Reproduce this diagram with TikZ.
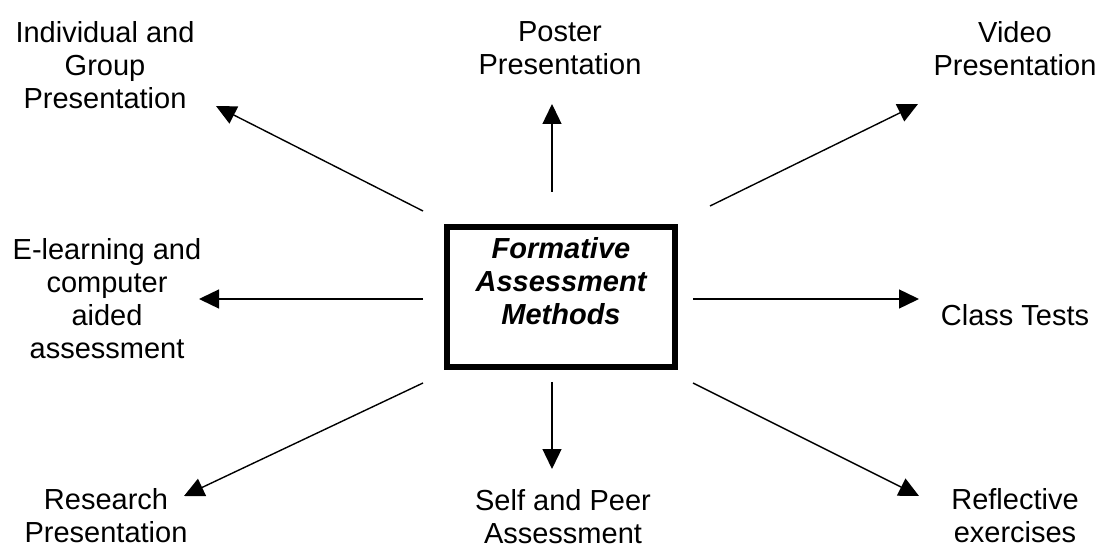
\documentclass[tikz,border=0pt]{standalone}
\usepackage{fontspec}
\setmainfont{Liberation Sans}
\usetikzlibrary{arrows.meta}
\begin{document}
\begin{tikzpicture}[x=1pt,y=-1pt,
  lbl/.style={align=center,font=\fontsize{29}{33}\selectfont,inner sep=0pt},
  arr/.style={line width=1.4pt,-{Triangle[length=20pt,width=19pt]}}]
\useasboundingbox (0,0) rectangle (1101,545);
%%% the box in the middle
\node[draw,line width=5.6pt,minimum width=228pt,minimum height=140pt,inner sep=0pt] (fam) at (561,297) {};
\node[lbl,font=\fontsize{29}{33}\selectfont\bfseries\itshape] (famtxt) at (561,281.5) {Formative\\Assessment\\Methods};
%%%%%%%%%%%%%%%%%%%%%
\node[lbl] (indiv) at (105,65) {Individual and\\Group\\Presentation};
\node[lbl] (poster) at (560,48.5) {Poster\\Presentation};
\node[lbl] (video) at (1015,49) {Video\\Presentation};
\node[lbl] (elearn) at (107,299) {E-learning and\\computer\\aided\\assessment};
\node[lbl] (class) at (1015,315) {Class Tests};
\node[lbl] (research) at (106,515.5) {Research\\Presentation};
\node[lbl] (selfpeer) at (563,516.5) {Self and Peer\\Assessment};
\node[lbl] (reflect) at (1015,516) {Reflective\\exercises};
%%% the free ends of the arrows
\coordinate (s-indiv) at (423,211);
\coordinate (t-indiv) at (216,106);
\coordinate (s-poster) at (552,192);
\coordinate (t-poster) at (552,104);
\coordinate (s-video) at (710,206);
\coordinate (t-video) at (918,104);
\coordinate (s-elearn) at (423,299);
\coordinate (t-elearn) at (199,299);
\coordinate (s-class) at (693,299);
\coordinate (t-class) at (919,299);
\coordinate (s-research) at (423,383);
\coordinate (t-research) at (184,496);
\coordinate (s-selfpeer) at (552,382);
\coordinate (t-selfpeer) at (552,469);
\coordinate (s-reflect) at (693,383);
\coordinate (t-reflect) at (919,496);
%%%%
\foreach \n in {indiv,poster,video,elearn,class,research,selfpeer,reflect}
  \draw[arr] (s-\n) -- (t-\n);
\end{tikzpicture}
\end{document}
